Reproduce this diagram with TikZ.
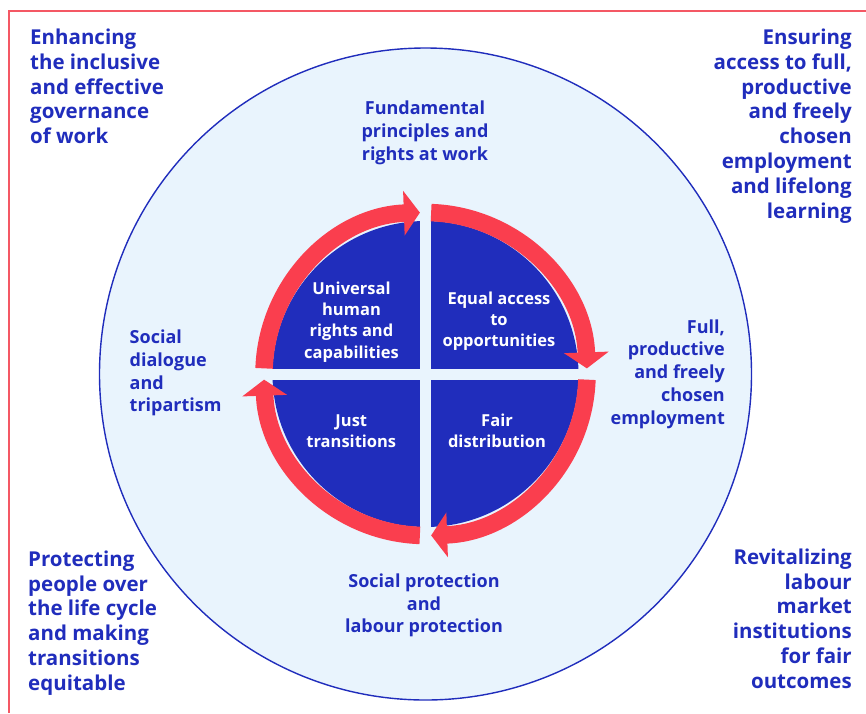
\documentclass[tikz,border=0pt]{standalone}
\usepackage{fontspec}
\setmainfont{Open Sans}
\usetikzlibrary{arrows.meta}
\definecolor{deepblue}{RGB}{32,45,188}
\definecolor{ringred}{RGB}{250,62,78}
\definecolor{paleblue}{RGB}{233,244,253}
\definecolor{framered}{RGB}{244,88,100}

\begin{document}
\begin{tikzpicture}[x=1pt,y=-1pt,
  corner/.style={text=deepblue,font=\bfseries\fontsize{20.5}{24.8}\selectfont,inner sep=0pt},
  pillar/.style={text=deepblue,font=\bfseries\fontsize{18}{22.7}\selectfont,inner sep=0pt},
  cell/.style={text=white,font=\bfseries\fontsize{16.5}{21.2}\selectfont,inner sep=0pt,align=center},
  ringarrow/.style={ringred,line width=17.5pt,-{Triangle[width=44pt,length=16pt]}}]
  \useasboundingbox (0,0) rectangle (866,713);
  \coordinate (c) at (425.5,374);
  % frame
  \draw[framered,line width=1.5pt] (9,713) -- (9,11) -- (866,11);
  % outer disc
  \draw[deepblue,fill=paleblue,line width=1.4pt] (c) circle[radius=326];
  % four blue quarters, split by a pale cross
  \fill[deepblue] (c) circle[radius=153];
  \draw[paleblue,line width=11pt] (c) ++(0,-175) -- ++(0,350) (c) ++(-175,0) -- ++(350,0);
  % clockwise arrows round the quarters
  \foreach \a in {0,90,180,270}
    \draw[ringarrow] (c) ++(\a+2:161.5) arc[start angle=\a+2,end angle=\a+88,radius=161.5];
  % corner texts
  \node[corner,anchor=west,align=left] (governance) at (30,86.5) {Enhancing\\the inclusive\\and effective\\governance\\of work};
  \node[corner,anchor=east,align=right] (employment) at (852,126) {Ensuring\\access to full,\\productive\\and freely\\chosen\\employment\\and lifelong\\learning};
  \node[corner,anchor=west,align=left] (lifecycle) at (28,623) {Protecting\\people over\\the life cycle\\and making\\transitions\\equitable};
  \node[corner,anchor=east,align=right] (institutions) at (852,618.5) {Revitalizing\\labour\\market\\institutions\\for fair\\outcomes};
  % texts round the ring
  \node[pillar,align=center] (rights) at (425,133) {Fundamental\\principles and\\rights at work};
  \node[pillar,anchor=west,align=left] (dialogue) at (129.5,373) {Social\\dialogue\\and\\tripartism};
  \node[pillar,anchor=east,align=right] (fullemp) at (725,374) {Full,\\productive\\and freely\\chosen\\employment};
  \node[pillar,align=center] (protection) at (424,605.5) {Social protection\\and\\labour protection};
  % quarter texts
  \node[cell] (universal) at (351.5,322) {Universal\\human\\rights and\\capabilities};
  \node[cell] (access) at (499,321.5) {Equal access\\to\\opportunities};
  \node[cell] (just) at (351.3,431) {Just\\transitions};
  \node[cell] (fair) at (497,431) {Fair\\distribution};
\end{tikzpicture}
\end{document}
